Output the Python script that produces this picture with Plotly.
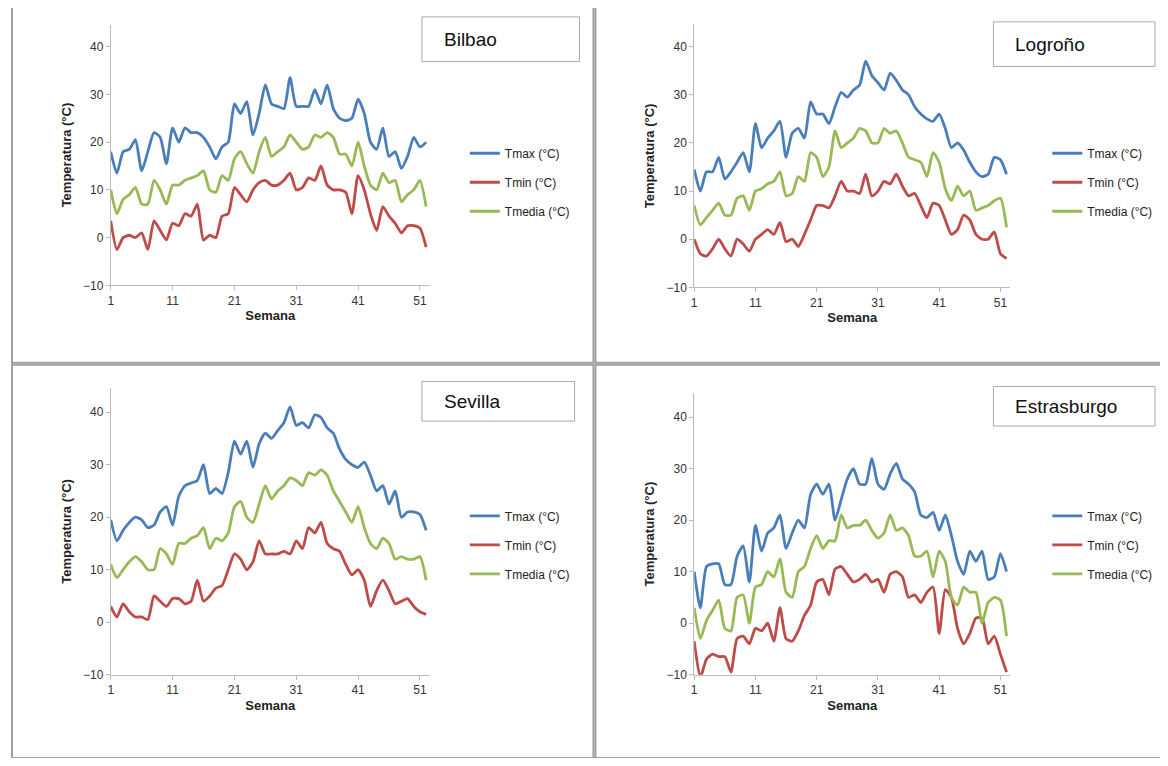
import plotly.graph_objects as go

semanas = list(range(1, 53))

bilbao_tmax = [18, 13.5, 18, 18.5, 20.5, 14, 18, 22, 21, 15.5, 23, 20, 23, 22, 22, 21, 19, 16.5, 19, 20, 28, 26, 28.5, 21.5, 26, 32, 28, 27.5, 27, 33.5, 27.5, 27.5, 27.5, 31, 28, 32, 27, 25, 24.5, 25, 29, 26, 20, 18.5, 23, 17, 18, 14.5, 17, 21, 19, 20]
bilbao_tmin = [3.5, -2.5, 0, 0.5, 0, 1, -2.5, 3.5, 1.5, -0.5, 3, 2.5, 5, 4.5, 7, -0.5, 0.5, 0, 4.5, 5, 10.5, 9, 7.5, 10, 11.5, 12, 11, 11, 12, 13.5, 10, 10.5, 12.5, 12, 15, 11, 10, 10, 9.5, 5, 13, 10, 5, 1.5, 6.5, 4.5, 3, 1, 2.5, 2.5, 2, -2]
bilbao_tmedia = [10, 5, 8, 9, 10.5, 7, 7, 12, 10, 7, 11, 11, 12, 12.5, 13, 14, 10, 9.5, 13, 12, 16.5, 18, 15.5, 13.5, 18, 21, 17, 18, 19, 21.5, 20, 18.5, 19, 21.5, 21, 22, 21, 17.5, 17.5, 15, 20, 15, 11, 10, 13.5, 11.5, 12, 7.5, 9, 10, 12, 6.5]

logrono_tmax = [14.5, 10, 14, 14, 17, 12.5, 14, 16, 18, 14, 24, 19, 21, 22.5, 24.5, 17, 22, 23, 21, 28.5, 26, 26, 24, 27.5, 30.5, 29.5, 31, 32, 37, 34, 32.5, 31, 34.5, 33, 31, 30, 27.5, 26, 25, 24.5, 26, 23, 19, 20, 18.5, 16, 14, 13, 13.5, 17, 16.5, 13.5]
logrono_tmin = [0, -3, -3.5, -2, 0, -2, -3.5, 0, -1, -2.5, 0, 1, 2, 1, 3.5, -0.5, 0, -1.5, 1, 4, 7, 7, 6.5, 9, 12, 10, 10, 9.5, 13.5, 9, 10, 12, 11.5, 13.5, 11, 9, 9.5, 7, 4.5, 7.5, 7, 4, 1, 2, 5, 4, 1, 0, 0, 1.5, -3, -4]
logrono_tmedia = [7, 3, 4.5, 6, 7.5, 5, 5, 8.5, 9, 6, 10, 10.5, 11.5, 12, 14, 9, 9.5, 13, 12, 18, 17, 13, 15, 22.5, 19, 20, 21, 23, 22.5, 20, 20, 23, 22, 22.5, 20, 17, 16.5, 16, 13, 18, 16, 10.5, 8, 11, 9, 10, 6, 6.5, 7, 8, 8.5, 2.5]

sevilla_tmax = [19.5, 15.5, 17.5, 19, 20, 19.5, 18, 18.5, 21, 22, 18.5, 24, 26, 26.5, 27, 30, 24.5, 25.5, 24.5, 28.5, 34.5, 32, 34.5, 29.5, 34, 36, 35, 36.5, 38, 41, 37.5, 38, 37, 39.5, 39, 37, 36, 33, 31, 30, 29.5, 30.5, 28, 25, 26, 22.5, 25, 20, 21, 21, 20.5, 17.5]
sevilla_tmin = [3, 1, 3.5, 2, 1, 1, 0.5, 5, 4, 3, 4.5, 4.5, 3.5, 4, 8, 4, 5, 6.5, 7, 10, 13, 12, 10, 11.5, 15.5, 13, 13, 13, 13.5, 13, 15.5, 14, 18, 17, 19, 15, 14, 13.5, 11, 9, 10, 8, 3, 6, 8, 6, 3.5, 4, 4.5, 3, 2, 1.5]
sevilla_tmedia = [11, 8.5, 10, 11.5, 12.5, 11.5, 10, 10, 14, 13, 11, 15, 15, 16, 16.5, 18, 14, 16, 15.5, 17, 22, 23, 20, 19, 22.5, 26, 23.5, 25, 26, 27.5, 27, 26, 28.5, 28, 29, 28, 25, 23, 21, 19, 22, 18, 15, 14, 16, 15, 12, 12.5, 12, 12, 12.5, 8]

estras_tmax = [10, 3, 11, 11.5, 11.5, 7.5, 7.5, 13, 15, 8, 19, 14, 17.5, 18.5, 21, 14.5, 17.5, 20, 18.5, 25, 27, 25, 27, 20, 24, 28, 30, 27, 27, 32, 27, 26, 29, 31, 28, 27, 25.5, 21, 20.5, 21.5, 18, 21, 17, 12, 9.5, 14, 12, 14, 8.5, 9, 13.5, 10]
estras_tmin = [-3.5, -10.5, -7, -6, -6.5, -6.5, -9.5, -3, -2.5, -4, -1, -1.5, 0, -3.5, 3, -3, -3.5, -1.5, 1.5, 3.5, 8, 8.5, 5.5, 10.5, 11, 9.5, 8, 8.5, 9.5, 8, 8.5, 6, 9.5, 10, 9, 5, 5.5, 4, 6, 7, -2, 6.5, 5, -1, -4, -2, 1, 1, -4, -2.5, -6, -9.5]
estras_tmedia = [3, -3, 0.5, 2.5, 4.5, -1, -1.5, 5, 5.5, 0, 7, 7.5, 10, 9, 12.5, 6, 5, 10, 11, 14.5, 17, 14.5, 16, 16, 21, 18.5, 19, 19, 20, 18, 16.5, 17.5, 21, 18, 18.5, 17, 13, 13, 14, 9, 14, 12, 5, 3.5, 7, 6, 6, 0, 4, 5, 4.5, -2.5]

ciudades = ["Bilbao", "Logroño", "Sevilla", "Estrasburgo"]
datos = [
    (bilbao_tmax, bilbao_tmin, bilbao_tmedia),
    (logrono_tmax, logrono_tmin, logrono_tmedia),
    (sevilla_tmax, sevilla_tmin, sevilla_tmedia),
    (estras_tmax, estras_tmin, estras_tmedia),
]
nombres = ["Tmax (°C)", "Tmin (°C)", "Tmedia (°C)"]
colores = ["#4A7EBB", "#BE4B48", "#98B954"]

# the page has an 8px body margin, so pixel positions below are screen pixels minus 8
OFF = 8
W, H = 1152, 750
paneles = [
    dict(x0=108, ppw=6.2, yb=288, p10=48.2, box=(420, 578, 17, 62), leg=(463, 140)),
    dict(x0=693, ppw=6.14, yb=290, p10=48.6, box=(993, 1155, 22, 67), leg=(1047, 140)),
    dict(x0=108, ppw=6.2, yb=681, p10=53.0, box=(420, 573, 385, 425), leg=(463, 506)),
    dict(x0=693, ppw=6.14, yb=681, p10=52.0, box=(993, 1155, 390, 430), leg=(1047, 506)),
]


def px(v):
    return (v - OFF) / W


def py(v):
    return 1 - (v - OFF) / H


fig = go.Figure()
shapes = []
annotations = []

for i, (p, ciudad, series) in enumerate(zip(paneles, ciudades, datos)):
    n = "" if i == 0 else str(i + 1)
    xmin, xmax = 1, 52.6
    ymin, ymax = -10, 44.6
    px_l = p["x0"]
    px_r = p["x0"] + (xmax - 1) * p["ppw"]
    py_b = p["yb"]
    py_t = p["yb"] - (ymax - ymin) / 10 * p["p10"]
    for name, col, vals in zip(nombres, colores, series):
        fig.add_trace(go.Scatter(
            x=semanas, y=vals, name=name, mode="lines",
            line=dict(color=col, width=2.8, shape="spline", smoothing=0.6),
            xaxis="x" + n, yaxis="y" + n, legend="legend" + n,
            legendgroup=ciudad + name,
        ))
    fig.update_layout(**{
        "xaxis" + n: dict(
            domain=[px(px_l), px(px_r)], range=[xmin, xmax], anchor="y" + n,
            tickvals=[1, 11, 21, 31, 41, 51], showgrid=False, zeroline=False,
            showline=True, linecolor="#BBBBBB", ticks="outside", ticklen=4,
            tickcolor="#BBBBBB", tickfont=dict(size=12, color="#333"),
            title=dict(text="<b>Semana</b>", font=dict(size=13, color="#222"), standoff=4),
        ),
        "yaxis" + n: dict(
            domain=[py(py_b), py(py_t)], range=[ymin, ymax], anchor="x" + n,
            tickvals=[-10, 0, 10, 20, 30, 40], showgrid=False, zeroline=False,
            showline=True, linecolor="#BBBBBB", ticks="outside", ticklen=4,
            tickcolor="#BBBBBB", tickfont=dict(size=12, color="#333"),
            title=dict(text="<b>Temperatura (°C)</b>", font=dict(size=13, color="#222"), standoff=8),
        ),
        "legend" + n: dict(
            x=px(p["leg"][0]), y=py(p["leg"][1]), xanchor="left", yanchor="top",
            font=dict(size=12, color="#222"), tracegroupgap=10, itemwidth=30,
            bgcolor="rgba(0,0,0,0)",
        ),
    })
    bx0, bx1, by0, by1 = p["box"]
    shapes.append(dict(type="rect", xref="paper", yref="paper",
                       x0=px(bx0), x1=px(bx1), y0=py(by1), y1=py(by0),
                       line=dict(color="#AAAAAA", width=1)))
    annotations.append(dict(text=ciudad, xref="paper", yref="paper",
                            x=px(bx0 + 20), y=py((by0 + by1) / 2),
                            xanchor="left", yanchor="middle", showarrow=False,
                            font=dict(size=19, color="#111")))

# panel frames
for x0, x1, y0, y1 in [(9, 592, 0, 366), (594, 1167, 0, 366), (9, 592, 368, 765), (594, 1167, 368, 765)]:
    shapes.append(dict(type="rect", xref="paper", yref="paper",
                       x0=px(x0), x1=px(x1), y0=py(y1), y1=py(y0),
                       line=dict(color="#A0A0A0", width=2)))

fig.update_layout(
    width=W, height=H, margin=dict(l=0, r=0, t=0, b=0),
    paper_bgcolor="white", plot_bgcolor="white",
    font=dict(family="Liberation Sans"), shapes=shapes, annotations=annotations,
)

fig.write_html("out.html")
